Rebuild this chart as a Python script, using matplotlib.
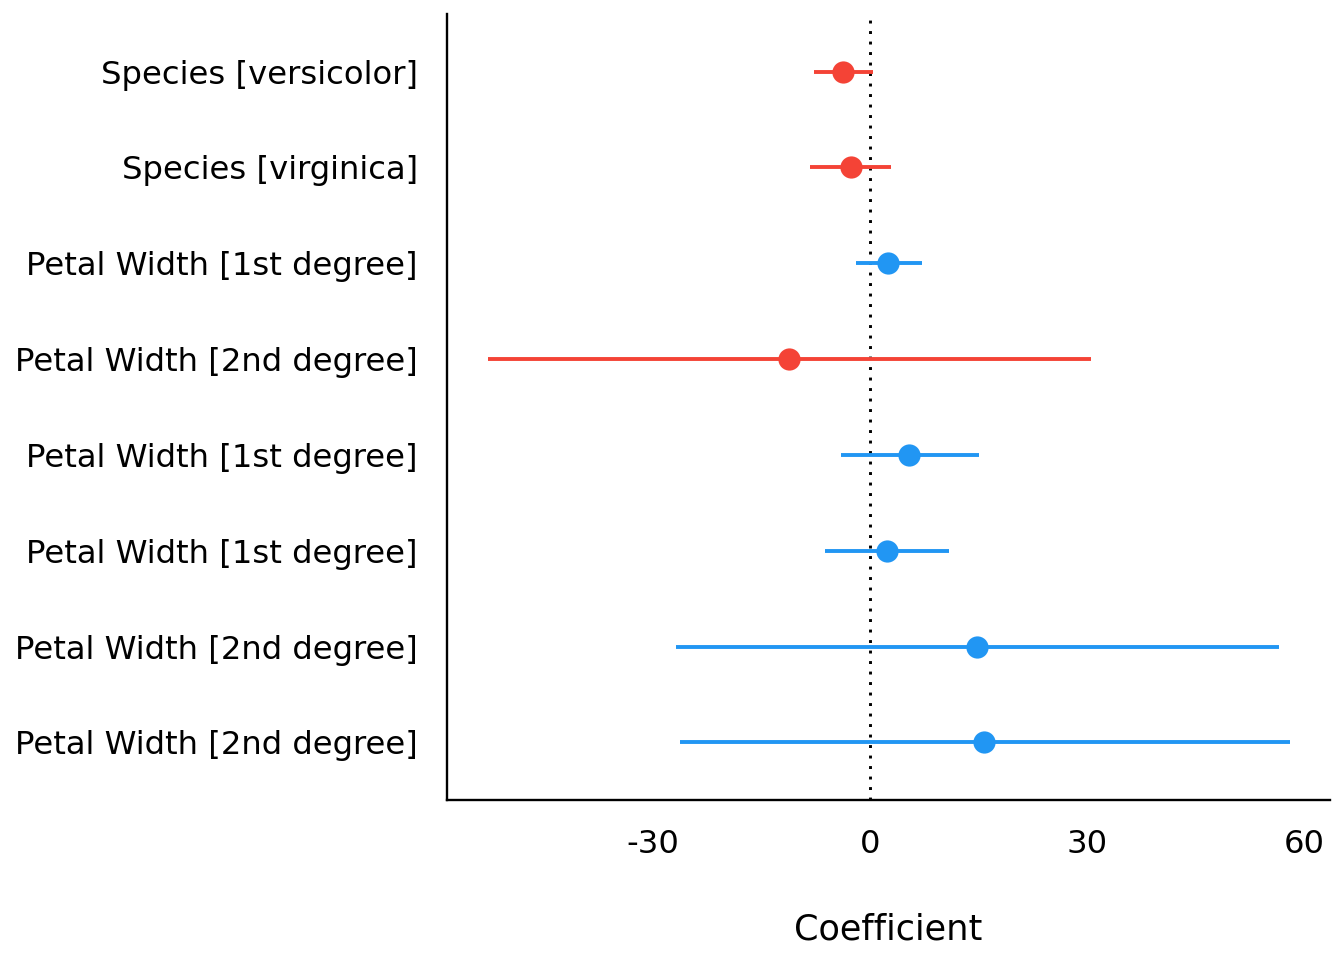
import matplotlib
matplotlib.use("Agg")
import matplotlib.pyplot as plt
import numpy as np

# model terms, top to bottom
terms = ["Species [versicolor]", "Species [virginica]",
         "Petal Width [1st degree]", "Petal Width [2nd degree]",
         "Petal Width [1st degree]", "Petal Width [1st degree]",
         "Petal Width [2nd degree]", "Petal Width [2nd degree]"]
estimate = [-3.7, -2.7, 2.5, -11.2, 5.4, 2.3, 14.8, 15.8]
conf_low = [-7.7, -8.3, -1.9, -52.8, -4.0, -6.2, -26.8, -26.3]
conf_high = [0.4, 2.9, 7.2, 30.6, 15.1, 10.9, 56.6, 58.0]
xticks = [-30, 0, 30, 60]

red = "#F44336"
blue = "#2196F3"

fig = plt.figure(figsize=(13.44, 9.6), dpi=100)
ax = fig.add_axes([0.3326, 0.1667, 0.6570, 0.8187])

ypos = np.arange(1, len(terms) + 1)

# zero reference line
ax.axvline(0, color="black", linewidth=2.1, linestyle=(0, (1, 2.6)), zorder=1)

for y, est, lo, hi in zip(ypos, estimate, conf_low, conf_high):
    col = blue if est > 0 else red
    ax.plot([lo, hi], [y, y], color=col, linewidth=2.8, solid_capstyle="butt", zorder=2)
    ax.plot(est, y, "o", color=col, markersize=16, markeredgewidth=0, zorder=3)

ax.set_xlim(-58.5, 63.6)
ax.set_ylim(8.6, 0.4)
ax.set_yticks(ypos)
ax.set_yticklabels(terms)
ax.set_xticks(xticks)
ax.set_xticklabels([str(t) for t in xticks])

ax.tick_params(axis="both", length=0, labelsize=23.2, colors="black")
ax.tick_params(axis="y", pad=21)
ax.tick_params(axis="x", pad=21)

ax.set_xlabel("Coefficient", fontsize=25.3, labelpad=38)

for side in ["top", "right"]:
    ax.spines[side].set_visible(False)
for side in ["left", "bottom"]:
    ax.spines[side].set_linewidth(1.7)
    ax.spines[side].set_color("black")

fig.savefig("out.png", dpi=100)
